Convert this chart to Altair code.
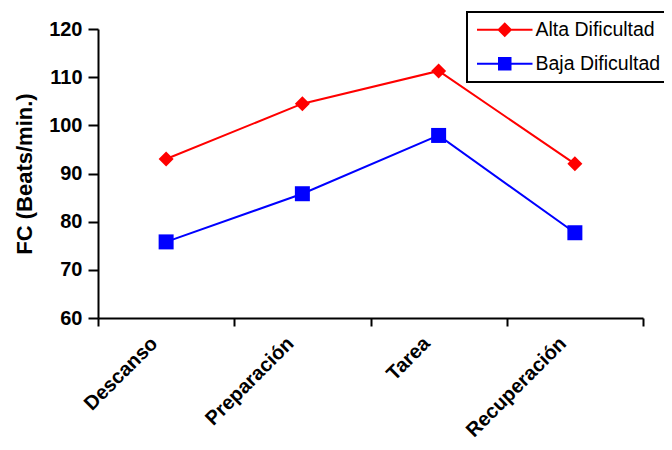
import altair as alt
import pandas as pd

categorias = ["Descanso", "Preparación", "Tarea", "Recuperación"]
alta = [93.0, 104.5, 111.3, 92.0]
baja = [75.8, 85.8, 97.9, 77.7]
series = ["Alta Dificultad", "Baja Dificultad"]
colores = ["#FF0000", "#0000FF"]
formas = ["diamond", "square"]
# legend symbols: a short line with the marker on it (all filled, clockwise)
formas_leyenda = [
    "M-3.7,-0.14H3.7V0.14H-3.7ZM-1,0L0,-1L1,0L0,1Z",
    "M-3.7,-0.14H3.7V0.14H-3.7ZM-0.9,-0.9H0.9V0.9H-0.9Z",
]
y_ticks = [60, 70, 80, 90, 100, 110, 120]

rows = []
for i, c in enumerate(categorias):
    rows.append({"pos": i + 0.5, "cat": c, "serie": series[0], "fc": alta[i]})
    rows.append({"pos": i + 0.5, "cat": c, "serie": series[1], "fc": baja[i]})
df = pd.DataFrame(rows)

FONT = "Liberation Sans"
label_expr = "[" + ",".join("'" + c + "'" for c in categorias) + ",''][datum.value]"

x = alt.X(
    "pos:Q",
    scale=alt.Scale(domain=[0, len(categorias)], nice=False, zero=False),
    axis=alt.Axis(
        values=list(range(len(categorias) + 1)),
        labelExpr=label_expr,
        labelAngle=-45,
        labelAlign="right",
        labelBaseline="middle",
        labelOffset=56,
        labelPadding=14,
        labelFont=FONT,
        labelFontSize=20,
        labelFontWeight="bold",
        labelColor="black",
        labelOverlap=False,
        tickSize=8,
        tickColor="black",
        tickWidth=2,
        domainColor="black",
        domainWidth=2,
        grid=False,
        title=None,
    ),
)
y = alt.Y(
    "fc:Q",
    scale=alt.Scale(domain=[60, 120], nice=False, zero=False),
    axis=alt.Axis(
        values=y_ticks,
        labelFont=FONT,
        labelFontSize=20,
        labelFontWeight="bold",
        labelColor="black",
        labelPadding=6,
        tickSize=10,
        tickColor="black",
        tickWidth=2,
        domainColor="black",
        domainWidth=2,
        grid=False,
        title="FC (Beats/min.)",
        titleFont=FONT,
        titleFontSize=22,
        titleFontWeight="bold",
        titleColor="black",
        titlePadding=12,
    ),
)

capas = []
for s, col in zip(series, colores):
    base = alt.Chart(df).transform_filter(alt.datum.serie == s)
    capas.append(base.mark_line(strokeWidth=2, color=col).encode(x=x, y=y))
for s, col, forma in zip(series, colores, formas):
    base = alt.Chart(df).transform_filter(alt.datum.serie == s)
    capas.append(
        base.mark_point(filled=True, size=225, opacity=1, color=col, shape=forma).encode(x=x, y=y)
    )

leg = alt.Legend(
    orient="none",
    legendX=369,
    legendY=-17,
    title=None,
    labelFont=FONT,
    labelFontSize=19.5,
    labelColor="black",
    symbolSize=225,
    symbolStrokeWidth=0,
    symbolOffset=20,
    labelOffset=21,
    rowPadding=13,
    padding=8,
    strokeColor="black",
    fillColor="white",
)

leyenda = (
    alt.Chart(df)
    .transform_filter("false")
    .mark_point(filled=True, opacity=1, strokeWidth=0)
    .encode(
        x=x,
        y=y,
        color=alt.Color("serie:N", scale=alt.Scale(domain=series, range=colores), legend=leg),
        shape=alt.Shape("serie:N", scale=alt.Scale(domain=series, range=formas_leyenda), legend=leg),
    )
)
capas.append(leyenda)

chart = (
    alt.layer(*capas)
    .properties(
        width=545,
        height=289,
        autosize=alt.AutoSizeParams(type="none"),
        padding={"left": 90, "top": 21, "right": 21, "bottom": 122},
        background="white",
    )
    .configure_view(stroke=None)
    .configure_legend(strokeWidth=2)
)

chart.save("out.html", embed_options={"renderer": "svg", "actions": False})
